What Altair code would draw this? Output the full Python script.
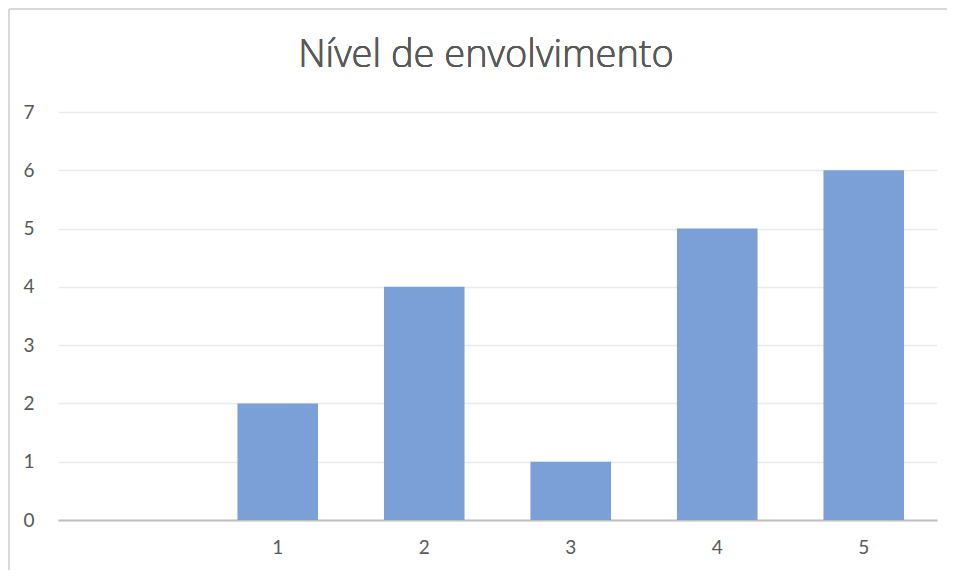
import altair as alt
import pandas as pd

categories = ["", "1", "2", "3", "4", "5"]
level_labels = ["1", "2", "3", "4", "5"]
counts = [2, 4, 1, 5, 6]
y_ticks = [0, 1, 2, 3, 4, 5, 6, 7]
title_text = "Nível de envolvimento"

df = pd.DataFrame({"nivel": level_labels, "valor": counts})

FONT = "Lato"
TXT = "#595959"

bars = alt.Chart(df).mark_bar(color="#7B9FD7").encode(
    x=alt.X(
        "nivel:N",
        scale=alt.Scale(domain=categories, paddingInner=0.45, paddingOuter=0.225),
        axis=alt.Axis(
            title=None,
            labelAngle=0,
            labelFont=FONT,
            labelFontSize=19,
            labelColor=TXT,
            labelPadding=18,
            ticks=False,
            domain=True,
            domainColor="#BFBFBF",
            domainWidth=2,
            grid=False,
        ),
    ),
    y=alt.Y(
        "valor:Q",
        scale=alt.Scale(domain=[0, 7], nice=False),
        axis=alt.Axis(
            title=None,
            values=y_ticks,
            labelFont=FONT,
            labelFontSize=19,
            labelColor=TXT,
            labelPadding=24,
            ticks=False,
            domain=False,
            grid=True,
            gridColor="#EBEBEB",
            gridWidth=1.5,
        ),
    ),
)

border_left = alt.Chart(df).mark_rule(color="#D9D9D9", strokeWidth=2).encode(
    x=alt.value(-49), y=alt.value(-103), y2=alt.value(460)
)
border_top = alt.Chart(df).mark_rule(color="#D9D9D9", strokeWidth=2).encode(
    x=alt.value(-49), x2=alt.value(889), y=alt.value(-103)
)

title = alt.Chart(df).mark_text(
    font="Open Sans",
    fontSize=38,
    fontWeight=300,
    color=TXT,
    align="center",
    baseline="alphabetic",
).encode(
    x=alt.value(428),
    y=alt.value(-45),
    text=alt.value(title_text),
)

chart = alt.layer(border_left, border_top, bars, title).properties(
    width=879,
    height=408,
    autosize=alt.AutoSizeParams(type="none"),
    padding={"left": 50, "top": 104, "right": 10, "bottom": 50},
).configure_view(stroke=None)

chart.save("out.html", embed_options={"renderer": "svg", "actions": False})
